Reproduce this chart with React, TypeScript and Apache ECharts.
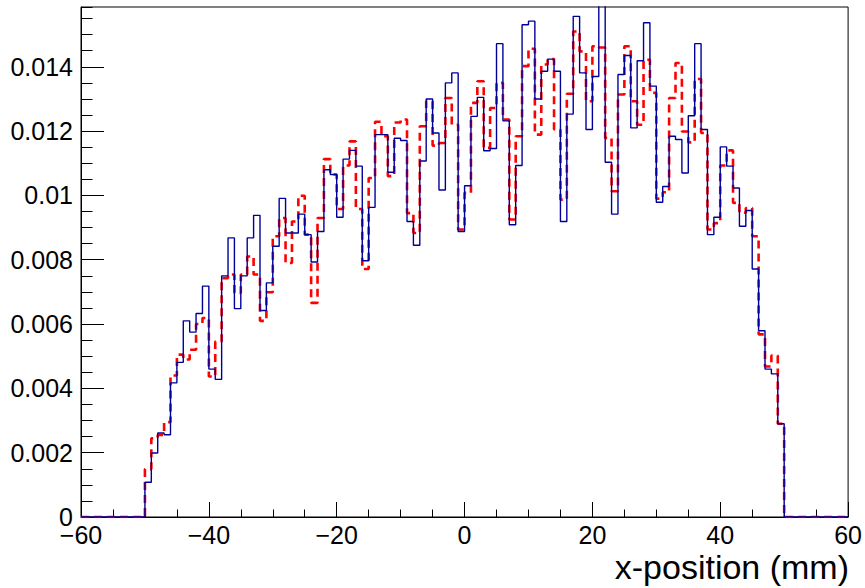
import React, { useEffect, useRef } from "react";
import * as echarts from "echarts";

// bin lower edges -50 ... 49 (1 mm bins); values in units of 1e-3
const binStart = -50;
const blueVals = [
  1.08, 1.99, 2.61, 2.56, 4.17, 4.81, 6.10, 5.75, 6.33, 7.18,
  4.60, 4.28, 7.50, 8.68, 6.48, 7.50, 8.68, 9.38, 6.42, 7.28,
  8.42, 9.91, 8.83, 8.83, 9.42, 8.78, 7.93, 8.88, 10.80, 10.65,
  9.32, 11.13, 11.40, 10.91, 7.97, 9.63, 11.89, 11.89, 10.72, 11.78,
  11.71, 9.19, 8.45, 11.07, 13.00, 11.94, 10.17, 13.50, 13.81, 8.88,
  10.30, 12.46, 13.05, 11.39, 11.46, 14.72, 12.32, 9.09, 10.93, 15.31,
  15.42, 13.00, 13.86, 14.24, 13.86, 9.19, 12.53, 15.57, 13.81, 12.05,
  13.70, 16.30, 11.03, 9.42, 13.76, 14.35, 12.10, 14.19, 15.37, 13.40,
  9.79, 10.28, 11.84, 11.74, 10.70, 12.48, 14.72, 12.05, 8.78, 9.32,
  11.51, 10.91, 10.23, 9.04, 9.53, 7.71, 5.79, 4.60, 4.45, 2.90,
];
const redVals = [
  1.49, 2.45, 2.55, 2.95, 4.40, 5.05, 4.90, 5.20, 6.00, 6.19,
  4.37, 5.46, 7.43, 7.54, 6.97, 7.54, 8.10, 7.54, 6.10, 6.99,
  8.73, 9.30, 7.90, 9.19, 9.99, 8.78, 6.66, 9.30, 11.13, 10.65,
  9.58, 10.93, 11.68, 9.58, 7.71, 10.54, 12.29, 11.84, 10.60, 12.27,
  12.36, 9.45, 8.83, 12.15, 12.93, 11.55, 11.63, 13.03, 12.20, 8.94,
  10.08, 12.88, 13.55, 11.48, 12.72, 13.50, 12.36, 9.25, 11.84, 14.02,
  14.56, 11.89, 14.07, 14.24, 12.05, 9.87, 13.16, 15.10, 14.48, 12.93,
  14.64, 14.60, 11.79, 10.13, 13.14, 14.64, 12.93, 12.20, 14.22, 13.19,
  9.90, 10.10, 13.03, 14.12, 11.99, 11.65, 13.62, 11.94, 8.94, 9.14,
  10.93, 11.40, 9.77, 9.46, 9.61, 8.73, 5.68, 4.68, 5.02, 2.90,
];
const xMin = -60;
const xMax = 60;
const yMax = 0.01586;
const yMajor = 0.002;
const yMinor = 0.0005;
const xMajor = 20;
const xTitle = "x-position (mm)";

function histPoints(vals: number[]): number[][] {
  const pts: number[][] = [];
  for (let e = xMin; e < xMax; e++) {
    const idx = e - binStart;
    const v = idx >= 0 && idx < vals.length ? vals[idx] * 1e-3 : 0;
    pts.push([e, v]);
  }
  pts.push([xMax, 0]);
  return pts;
}

const FONT = "Liberation Sans, Arial, Helvetica, sans-serif";

export default function App() {
  const ref = useRef<HTMLDivElement>(null);
  useEffect(() => {
    if (!ref.current) return;
    const chart = echarts.init(ref.current, null, { renderer: "svg" });
    chart.setOption({
      animation: false,
      backgroundColor: "#ffffff",
      grid: {
        left: 81,
        right: 16,
        top: 7,
        bottom: 71,
        show: true,
        borderColor: "#000",
        borderWidth: 1,
        backgroundColor: "transparent",
      },
      xAxis: {
        type: "value",
        min: xMin,
        max: xMax,
        interval: xMajor,
        axisLine: { show: true, onZero: false, lineStyle: { color: "#000", width: 1 } },
        axisTick: { show: true, inside: true, length: 15, lineStyle: { color: "#000" } },
        minorTick: { show: true, splitNumber: 4, length: 7.5, lineStyle: { color: "#000" } },
        splitLine: { show: false },
        axisLabel: {
          margin: 5,
          color: "#000",
          fontFamily: FONT,
          fontSize: 25,
          formatter: (v: number) => String(v).replace("-", "\u2212"),
        },
      },
      yAxis: [
        {
          type: "value",
          min: 0,
          max: yMax,
          interval: yMajor,
          axisLine: { show: true, onZero: false, lineStyle: { color: "#000", width: 1 } },
          axisTick: { show: true, inside: true, length: 23, lineStyle: { color: "#000" } },
          splitLine: { show: false },
          axisLabel: {
            margin: 8,
            color: "#000",
            fontFamily: FONT,
            fontSize: 25,
            showMaxLabel: false,
            formatter: (v: number) => {
              const k = Math.round(v / yMajor);
              if (Math.abs(k * yMajor - v) > 1e-9) return "";
              return k === 0 ? "0" : String(Number((k * yMajor).toFixed(4)));
            },
          },
        },
        {
          type: "value",
          min: 0,
          max: yMax,
          interval: yMinor,
          position: "left",
          axisLine: { show: false, onZero: false },
          axisTick: { show: true, inside: true, length: 11.5, lineStyle: { color: "#000" } },
          splitLine: { show: false },
          axisLabel: { show: false },
        },
      ],
      series: [
        {
          type: "line",
          step: "end",
          data: histPoints(redVals),
          symbol: "none",
          clip: true,
          lineStyle: { color: "#ff0000", width: 2.6, type: [8, 5] },
          z: 2,
        },
        {
          type: "line",
          step: "end",
          data: histPoints(blueVals),
          symbol: "none",
          clip: true,
          lineStyle: { color: "#000099", width: 1.4 },
          z: 3,
        },
      ],
      graphic: [
        {
          type: "text",
          right: 16,
          top: 550,
          style: { text: xTitle, font: `34px ${FONT}`, fill: "#000" },
        },
      ],
    });
    return () => chart.dispose();
  }, []);
  return (
    <div
      ref={ref}
      style={{ position: "absolute", left: 0, top: 0, width: 865, height: 588 }}
    />
  );
}
